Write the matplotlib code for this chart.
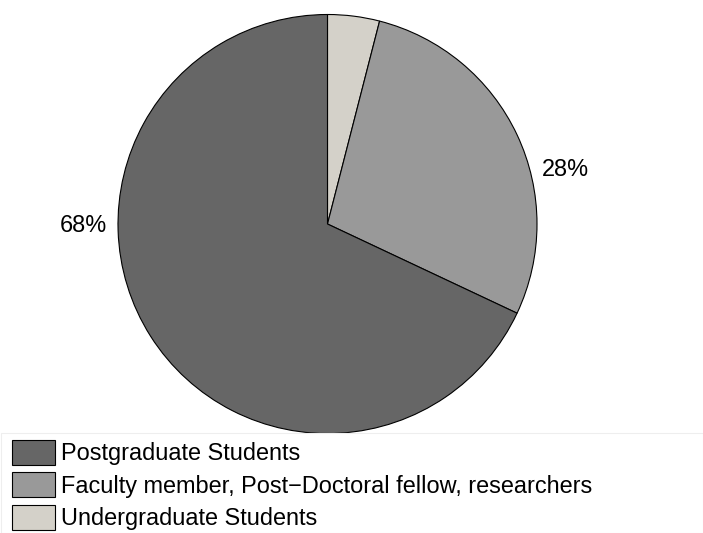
import matplotlib
matplotlib.use('Agg')
from matplotlib import pyplot as plt

# Respondent groups (drawn clockwise from 12 o'clock)
groups = ['Undergraduate Students',
          'Faculty member, Post\u2212Doctoral fellow, researchers',
          'Postgraduate Students']
shares = [4, 28, 68]
colors = ['#d4d1c9', '#999999', '#666666']
pct_labels = ['', '28%', '68%']
# label spots in pie units (radius = 1)
label_xy = [None, (1.134, 0.258), (-1.167, -0.005)]

plt.rcParams['font.family'] = ['Liberation Sans', 'DejaVu Sans']

W, H = 703, 533
fig = plt.figure(figsize=(W / 100, H / 100), dpi=100)

# pie centre (327.5, 224) px, radius 209.5 px; bottom clipped at 432 px
cx, cy, r = 327.5, 224.0, 209.5
top_px, bot_px = cy - r, 432.0
ax = fig.add_axes([(cx - r) / W, 1 - bot_px / H, 2 * r / W, (bot_px - top_px) / H])

wedges, _ = ax.pie(shares, colors=colors, startangle=90, counterclock=False,
                   wedgeprops=dict(edgecolor='black', linewidth=0.8))
ax.set_xlim(-1, 1)
ax.set_ylim(-(bot_px - cy) / r, 1)
ax.set_aspect('auto')
ax.axis('off')

for lab, xy in zip(pct_labels, label_xy):
    if lab:
        ax.text(xy[0], xy[1], lab, ha='center', va='center', fontsize=16.9,
                clip_on=False)

# faint frame around the legend area
fig.add_artist(plt.Rectangle((0.5 / W, 0), 1 - 1 / W, 1 - 433 / H,
                             transform=fig.transFigure, fill=False,
                             edgecolor='#eeeeee', linewidth=0.8))

order = [2, 1, 0]
fig.legend([wedges[i] for i in order], [groups[i] for i in order],
           loc='upper left', bbox_to_anchor=(12 / W, 1 - 440 / H),
           frameon=False, fontsize=16.9, borderpad=0, borderaxespad=0,
           handlelength=1.83, handleheight=1.26, handletextpad=0.25,
           labelspacing=0.3)

fig.savefig('out.png', dpi=100)
